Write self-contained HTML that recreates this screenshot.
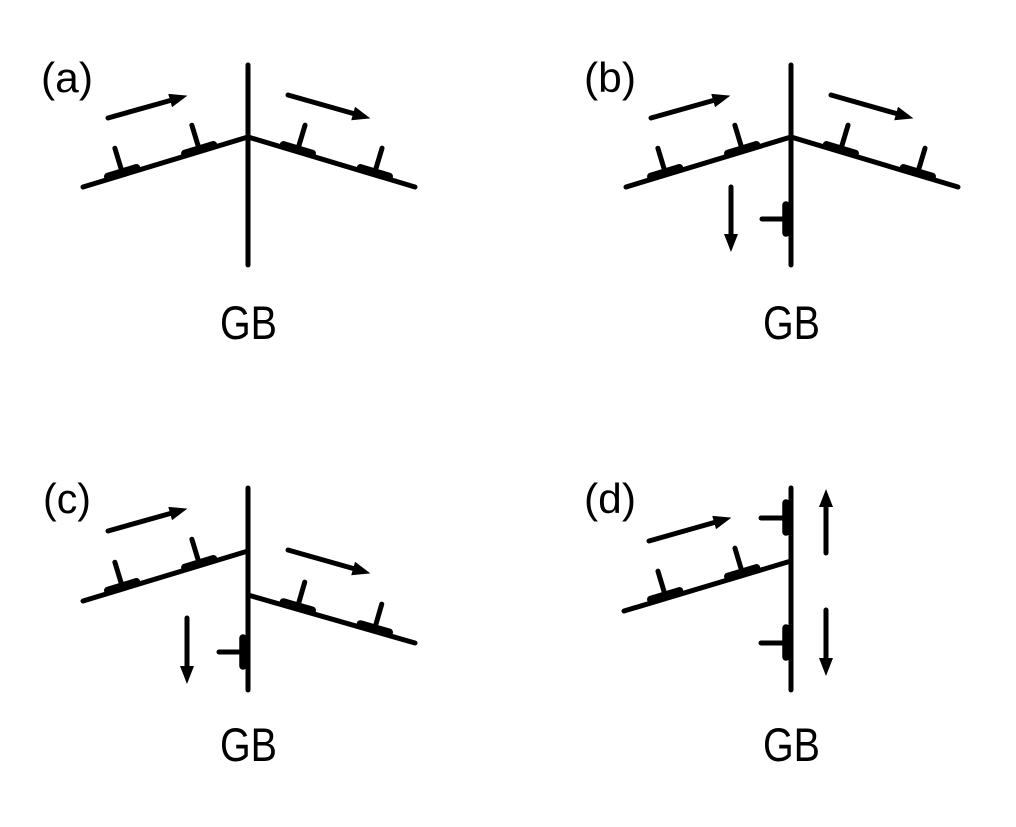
<!DOCTYPE html>
<html><head><style>html,body{margin:0;padding:0;background:#fff}svg{display:block}</style></head>
<body>
<svg width="1016" height="827" viewBox="0 0 1016 827" xmlns="http://www.w3.org/2000/svg">
<defs>
<marker id="ah" markerUnits="userSpaceOnUse" markerWidth="20" markerHeight="16" refX="2" refY="7" orient="auto">
<path d="M0,0 L18,7 L0,14 z" fill="#000"/>
</marker>
<g id="dis">
<line x1="-15" y1="-3" x2="15" y2="-3" stroke="#000" stroke-width="7.5" stroke-linecap="round"/>
<line x1="0" y1="-3" x2="0" y2="-28" stroke="#000" stroke-width="5" stroke-linecap="round"/>
</g>
</defs>
<g stroke="#000" stroke-width="5" stroke-linecap="round" fill="none">
<!-- (a) -->
<line x1="248" y1="65" x2="248" y2="265"/>
<polyline points="83,187 248,137 415,187"/>
<line x1="108" y1="118" x2="172" y2="100" marker-end="url(#ah)"/>
<line x1="288" y1="95" x2="355" y2="114" marker-end="url(#ah)"/>
<!-- (b) -->
<line x1="791" y1="65" x2="791" y2="265"/>
<polyline points="626,187 791,137 958,187"/>
<line x1="651" y1="118" x2="715" y2="100" marker-end="url(#ah)"/>
<line x1="831" y1="95" x2="898" y2="114" marker-end="url(#ah)"/>
<line x1="731" y1="187" x2="731" y2="236" marker-end="url(#ah)"/>
<line x1="762" y1="219" x2="786" y2="219"/>
<line x1="786" y1="205" x2="786" y2="233" stroke-width="7.5"/>
<!-- (c) -->
<line x1="248" y1="488" x2="248" y2="690"/>
<line x1="83" y1="601" x2="248" y2="551"/>
<line x1="248" y1="595" x2="415" y2="643"/>
<line x1="108" y1="531" x2="172" y2="513" marker-end="url(#ah)"/>
<line x1="288" y1="550" x2="355" y2="569" marker-end="url(#ah)"/>
<line x1="187" y1="618" x2="187" y2="668" marker-end="url(#ah)"/>
<line x1="219" y1="652" x2="243" y2="652"/>
<line x1="243" y1="638" x2="243" y2="666" stroke-width="7.5"/>
<!-- (d) -->
<line x1="791" y1="488" x2="791" y2="690"/>
<line x1="624" y1="611" x2="791" y2="561"/>
<line x1="649" y1="541" x2="716" y2="522" marker-end="url(#ah)"/>
<line x1="761" y1="518" x2="786" y2="518"/>
<line x1="786" y1="503" x2="786" y2="532" stroke-width="7.5"/>
<line x1="761" y1="643" x2="786" y2="643"/>
<line x1="786" y1="628" x2="786" y2="657" stroke-width="7.5"/>
<line x1="826" y1="553" x2="826" y2="505" marker-end="url(#ah)"/>
<line x1="826" y1="610" x2="826" y2="660" marker-end="url(#ah)"/>
</g>
<use href="#dis" transform="translate(123,175) rotate(-16.9)"/>
<use href="#dis" transform="translate(200,152) rotate(-16.9)"/>
<use href="#dis" transform="translate(297,152) rotate(16.7)"/>
<use href="#dis" transform="translate(374,175) rotate(16.7)"/>
<use href="#dis" transform="translate(666,175) rotate(-16.9)"/>
<use href="#dis" transform="translate(743,152) rotate(-16.9)"/>
<use href="#dis" transform="translate(840,152) rotate(16.7)"/>
<use href="#dis" transform="translate(917,175) rotate(16.7)"/>
<use href="#dis" transform="translate(123,589) rotate(-16.9)"/>
<use href="#dis" transform="translate(200,566) rotate(-16.9)"/>
<use href="#dis" transform="translate(297,609) rotate(16.1)"/>
<use href="#dis" transform="translate(374,631) rotate(16.1)"/>
<use href="#dis" transform="translate(666,598) rotate(-16.7)"/>
<use href="#dis" transform="translate(743,575) rotate(-16.7)"/>
<g font-family="Liberation Sans, sans-serif" fill="#000">
<text x="41" y="92" font-size="42" textLength="52" lengthAdjust="spacingAndGlyphs">(a)</text>
<text x="584" y="92" font-size="42" textLength="52" lengthAdjust="spacingAndGlyphs">(b)</text>
<text x="43" y="513" font-size="42" textLength="48" lengthAdjust="spacingAndGlyphs">(c)</text>
<text x="584" y="513" font-size="42" textLength="52" lengthAdjust="spacingAndGlyphs">(d)</text>
<text x="220" y="339" font-size="47" textLength="57" lengthAdjust="spacingAndGlyphs">GB</text>
<text x="763" y="339" font-size="47" textLength="57" lengthAdjust="spacingAndGlyphs">GB</text>
<text x="220" y="761" font-size="47" textLength="57" lengthAdjust="spacingAndGlyphs">GB</text>
<text x="763" y="761" font-size="47" textLength="57" lengthAdjust="spacingAndGlyphs">GB</text>
</g>
</svg>
</body></html>
